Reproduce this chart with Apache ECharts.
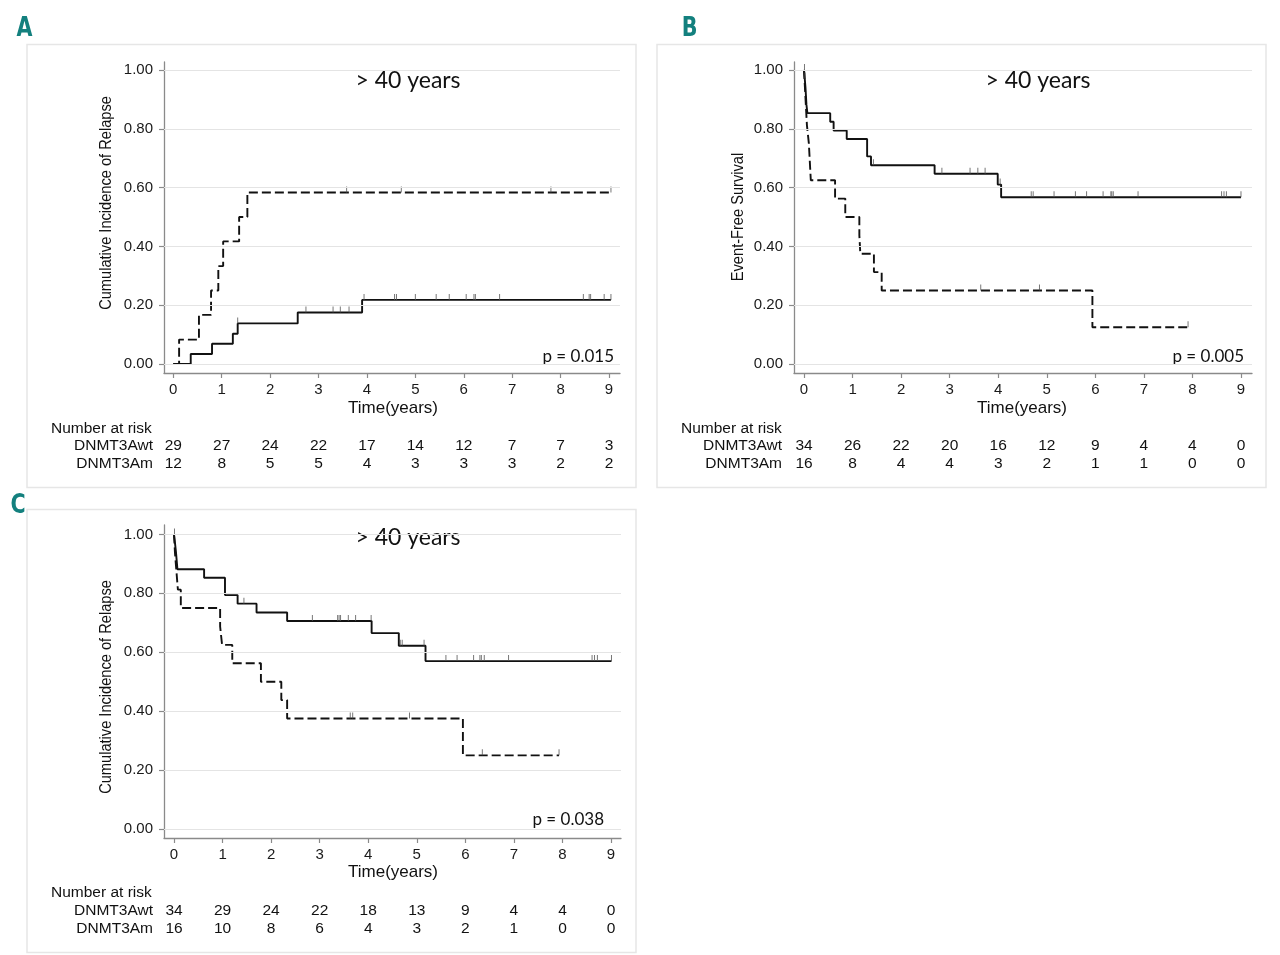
<!DOCTYPE html>
<html><head><meta charset="utf-8">
<script src="https://cdn.jsdelivr.net/npm/echarts@6/dist/echarts.min.js"></script>
<style>html,body{margin:0;padding:0;background:#fff}#c{width:1280px;height:955px}</style>
</head><body><div id="c"></div><script>
// ---------------- data ----------------
const xTicks = [0, 1, 2, 3, 4, 5, 6, 7, 8, 9];
const yTicks = [0, 0.2, 0.4, 0.6, 0.8, 1.0];
const groupNames = ['DNMT3Awt', 'DNMT3Am'];
const panelLetters = ['A', 'B', 'C'];
const panelTitles = ['> 40 years', '> 40 years', '> 40 years'];
const yTitles = ['Cumulative Incidence of Relapse', 'Event-Free Survival', 'Cumulative Incidence of Relapse'];
const pValues = ['p = 0.015', 'p = 0.005', 'p = 0.038'];
const xTitle = 'Time(years)';
const riskHeader = 'Number at risk';

// Panel A
const aWtTimes  = [0, 0.36, 0.80, 1.23, 1.33, 2.57, 3.90, 9.04];
const aWtValues = [0, 0.034, 0.069, 0.103, 0.138, 0.175, 0.218, 0.218];
const aWtCensor = [1.33, 2.74, 3.30, 3.45, 3.63, 3.94, 4.57, 4.61, 5.00, 5.43, 5.70, 6.05, 6.21, 6.24, 6.74, 8.47, 8.59, 8.62, 8.90, 9.04];
const aMTimes   = [0, 0.12, 0.53, 0.78, 0.93, 1.03, 1.36, 1.53, 9.04];
const aMValues  = [0, 0.083, 0.167, 0.25, 0.333, 0.417, 0.5, 0.583, 0.583];
const aMCensor  = [3.58, 4.71, 7.80, 9.04];
const aRiskWt   = [29, 27, 24, 22, 17, 14, 12, 7, 7, 3];
const aRiskM    = [12, 8, 5, 5, 4, 3, 3, 3, 2, 2];

// Panel B
const bWtTimes  = [0, 0.015, 0.03, 0.05, 0.07, 0.54, 0.61, 0.88, 1.30, 1.38, 2.69, 3.99, 4.06, 9.0];
const bWtValues = [1, 0.971, 0.941, 0.882, 0.853, 0.824, 0.794, 0.765, 0.706, 0.676, 0.647, 0.610, 0.567, 0.567];
const bWtCensor = [0.01, 0.02, 1.43, 2.84, 3.42, 3.58, 3.73, 4.04, 4.68, 4.72, 5.15, 5.59, 5.82, 6.16, 6.32, 6.34, 6.37, 6.88, 8.60, 8.65, 8.70, 9.0];
const bMTimes   = [0, 0.02, 0.04, 0.06, 0.10, 0.14, 0.64, 0.85, 1.14, 1.16, 1.44, 1.60, 5.94, 7.91];
const bMValues  = [1, 0.9375, 0.875, 0.8125, 0.75, 0.625, 0.5625, 0.5, 0.4375, 0.375, 0.3125, 0.25, 0.125, 0.125];
const bMCensor  = [3.64, 4.85, 7.91];
const bRiskWt   = [34, 26, 22, 20, 16, 12, 9, 4, 4, 0];
const bRiskM    = [16, 8, 4, 4, 3, 2, 1, 1, 0, 0];

// Panel C
const cWtTimes  = [0, 0.02, 0.04, 0.07, 0.62, 1.05, 1.31, 1.70, 2.33, 4.07, 4.63, 5.18, 9.01];
const cWtValues = [1, 0.971, 0.941, 0.882, 0.853, 0.794, 0.765, 0.735, 0.706, 0.665, 0.622, 0.570, 0.570];
const cWtCensor = [0.01, 1.44, 2.85, 3.37, 3.40, 3.43, 3.59, 3.74, 4.06, 4.66, 4.70, 5.15, 5.60, 5.83, 6.17, 6.30, 6.33, 6.39, 6.89, 8.61, 8.66, 8.72, 9.01];
const cMTimes   = [0, 0.02, 0.05, 0.08, 0.14, 0.95, 0.99, 1.20, 1.79, 2.21, 2.33, 5.95, 7.93];
const cMValues  = [1, 0.9375, 0.875, 0.8125, 0.75, 0.6875, 0.625, 0.5625, 0.5, 0.4375, 0.375, 0.25, 0.25];
const cMCensor  = [3.63, 3.68, 4.85, 6.35, 7.93];
const cRiskWt   = [34, 29, 24, 22, 18, 13, 9, 4, 4, 0];
const cRiskM    = [16, 10, 8, 6, 4, 3, 2, 1, 0, 0];

// ---------------- layout (pixels) ----------------
const layout = [
  { grid: {left: 164, top: 62, width: 456, height: 311}, xMin: -0.192, xMax: 9.227, yMin: -0.0306, yMax: 1.027,
    box: [27, 44.5, 609, 443], letter: [24.5, 29], title: [408, 81], p: [614, 357], xt: [393, 408], yt: [106, 203],
    riskHead: [51, 429], riskLabelX: 153, riskRows: [446, 464] },
  { grid: {left: 794, top: 62, width: 458, height: 311}, xMin: -0.206, xMax: 9.227, yMin: -0.0306, yMax: 1.027,
    box: [657, 44.5, 609, 443], letter: [689.5, 29], title: [1038, 81], p: [1244, 357], xt: [1022, 408], yt: [738, 217],
    riskHead: [681, 429], riskLabelX: 782, riskRows: [446, 464] },
  { grid: {left: 164, top: 525, width: 457, height: 313}, xMin: -0.206, xMax: 9.206, yMin: -0.0306, yMax: 1.032,
    box: [27, 509.5, 609, 443], letter: [18, 506], title: [408, 538], p: [604, 820], xt: [393, 872], yt: [106, 687],
    riskHead: [51, 893], riskLabelX: 153, riskRows: [911, 929] }
];

const panels = [
  { wt: [aWtTimes, aWtValues, aWtCensor], m: [aMTimes, aMValues, aMCensor], risk: [aRiskWt, aRiskM] },
  { wt: [bWtTimes, bWtValues, bWtCensor], m: [bMTimes, bMValues, bMCensor], risk: [bRiskWt, bRiskM] },
  { wt: [cWtTimes, cWtValues, cWtCensor], m: [cMTimes, cMValues, cMCensor], risk: [cRiskWt, cRiskM] }
];

function zip(t, v) { return t.map((x, i) => [x, v[i]]); }
function stepAt(t, v, x) { let r = v[0]; for (let i = 0; i < t.length; i++) if (t[i] <= x + 1e-9) r = v[i]; return r; }

const AXC = '#8a8a8a';
const SANS = 'Liberation Sans, Arial, sans-serif';
const grids = [], xAxes = [], yAxes = [], series = [];

layout.forEach((L, i) => {
  grids.push(Object.assign({}, L.grid));
  xAxes.push({
    type: 'value', gridIndex: i, min: L.xMin, max: L.xMax,
    axisLine: { show: true, onZero: false, lineStyle: { color: AXC, width: 1.3 } },
    axisTick: { show: true, customValues: xTicks, length: 5, lineStyle: { color: AXC, width: 1.2 } },
    axisLabel: { show: true, customValues: xTicks, margin: 9, color: '#1a1a1a', fontSize: 15, fontFamily: SANS,
      formatter: v => String(Math.round(v)) },
    splitLine: { show: false }
  });
  yAxes.push({
    type: 'value', gridIndex: i, min: L.yMin, max: L.yMax,
    axisLine: { show: true, onZero: false, lineStyle: { color: AXC, width: 1.3 } },
    axisTick: { show: true, customValues: yTicks, length: 5, lineStyle: { color: AXC, width: 1.2 } },
    axisLabel: { show: true, customValues: yTicks, margin: 11, color: '#1a1a1a', fontSize: 15, fontFamily: SANS,
      formatter: v => v.toFixed(2) },
    splitLine: { show: false }
  });
  const P = panels[i];
  // gridlines
  series.push({
    type: 'line', xAxisIndex: i, yAxisIndex: i, data: zip(P.wt[0], P.wt[1]), z: 1,
    lineStyle: { opacity: 0 }, symbol: 'none', silent: true,
    markLine: { silent: true, symbol: 'none', label: { show: false },
      lineStyle: { color: '#e4e4e4', width: 1.2, type: 'solid' },
      data: yTicks.map(v => ({ yAxis: v })) }
  });
  [['wt', 'solid'], ['m', [9, 4]]].forEach(([key, dash]) => {
    const [t, v, c] = P[key];
    series.push({
      type: 'line', xAxisIndex: i, yAxisIndex: i, step: 'end', symbol: 'none', z: 3,
      data: zip(t, v), lineStyle: { color: '#111', width: 1.9, type: dash }
    });
    series.push({
      type: 'scatter', xAxisIndex: i, yAxisIndex: i, z: 4, symbol: 'rect', symbolSize: [1, 6], symbolOffset: [0, -3],
      itemStyle: { color: '#555' }, data: c.map(x => [x, stepAt(t, v, x)])
    });
  });
});

const chart = echarts.init(document.getElementById('c'), null, { renderer: 'canvas' });
chart.setOption({
  animation: false, backgroundColor: '#fff',
  grid: grids, xAxis: xAxes, yAxis: yAxes, series: series
});

// ---------------- text & frames ----------------
const graphic = [];
layout.forEach((L, i) => {
  graphic.push({ type: 'rect', shape: { x: L.box[0], y: L.box[1], width: L.box[2], height: L.box[3] },
    style: { fill: 'none', stroke: '#e6e6e6', lineWidth: 1.5 }, z: 0 });
  graphic.push({ type: 'text', x: L.letter[0], y: L.letter[1], scaleX: 0.85, style: { text: panelLetters[i], fill: '#13807e',
    font: 'bold 27px "DejaVu Sans Condensed", "Liberation Sans", sans-serif', align: 'center', verticalAlign: 'middle' } });
  graphic.push({ type: 'text', x: L.title[0], y: L.title[1], style: { text: panelTitles[i], fill: '#111',
    font: '23px Lato, "Open Sans", sans-serif', align: 'center', verticalAlign: 'middle' } });
  graphic.push({ type: 'text', x: L.p[0], y: L.p[1], style: { text: pValues[i], fill: '#111',
    font: '17px Lato, "Open Sans", sans-serif', align: 'right', verticalAlign: 'middle' } });
  graphic.push({ type: 'text', x: L.xt[0], y: L.xt[1], style: { text: xTitle, fill: '#111',
    font: '17px "Liberation Sans", Arial, sans-serif', align: 'center', verticalAlign: 'middle' } });
  graphic.push({ type: 'text', x: L.yt[0], y: L.yt[1], rotation: Math.PI / 2, scaleX: 0.86, style: { text: yTitles[i], fill: '#111',
    font: '17px "Liberation Sans", Arial, sans-serif', align: 'center', verticalAlign: 'middle' } });
  graphic.push({ type: 'text', x: L.riskHead[0], y: L.riskHead[1], style: { text: riskHeader, fill: '#111',
    font: '15.5px "Liberation Sans", Arial, sans-serif', align: 'left', verticalAlign: 'middle' } });
  const P = panels[i];
  P.risk.forEach((row, r) => {
    const y = L.riskRows[r];
    graphic.push({ type: 'text', x: L.riskLabelX, y: y, style: { text: groupNames[r], fill: '#111',
      font: '15.5px "Liberation Sans", Arial, sans-serif', align: 'right', verticalAlign: 'middle' } });
    row.forEach((n, k) => {
      const px = chart.convertToPixel({ xAxisIndex: i }, xTicks[k]);
      graphic.push({ type: 'text', x: px, y: y, style: { text: String(n), fill: '#111',
        font: '15.5px "Liberation Sans", Arial, sans-serif', align: 'center', verticalAlign: 'middle' } });
    });
  });
});
chart.setOption({ graphic: graphic });
</script></body></html>
